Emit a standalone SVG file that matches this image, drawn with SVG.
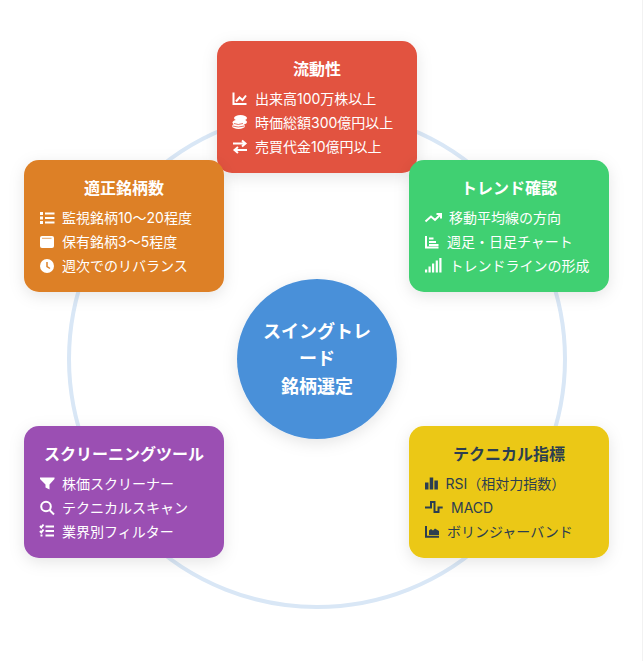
<svg xmlns="http://www.w3.org/2000/svg" width="643" height="661" viewBox="0 0 643 661">
<style>
text{font-family:"Inter","Noto Sans CJK JP","Noto Sans",sans-serif;fill:#fff}
.t{font-size:16px;font-weight:700;text-anchor:middle}
.l{font-size:14px}
.c{font-size:18px;font-weight:700;text-anchor:middle}
.d text{fill:#2c3e50}
.i{fill:#fff}
.d .i{fill:#2c3e50}
.s{fill:none;stroke:#fff;stroke-width:2}
.d .s{stroke:#2c3e50}
</style>
<defs>
<filter id="sh" x="-30%" y="-30%" width="160%" height="170%"><feDropShadow dx="0" dy="4" stdDeviation="7.5" flood-color="#000" flood-opacity="0.1"/></filter>
</defs>
<rect width="643" height="661" fill="#fff"/>
<rect x="642" y="0" width="1" height="661" fill="#f2f2f2"/>
<g id="connectors"><circle cx="317" cy="359" r="248" fill="none" stroke="#d9e7f6" stroke-width="4"/></g>
<g id="center"><circle cx="317" cy="359" r="80" fill="#4a90d9" filter="url(#sh)"/>
<text class="c" x="317" y="338">スイングトレ</text><text class="c" x="317" y="365">ード</text><text class="c" x="317" y="393">銘柄選定</text></g>
<g id="liquidity"><rect x="217" y="41" width="200" height="132" rx="15" fill="#e25240" filter="url(#sh)"/>
<text class="t" x="317" y="75">流動性</text>
<path class="s" d="M233.500 92.500V104H246.500M236 101.500L239.500 97.500L242.500 100L246 95.500"/>
<g class="i"><ellipse cx="240.500" cy="118" rx="6.500" ry="3"/><ellipse cx="241" cy="122" rx="6" ry="3"/><ellipse cx="238" cy="122.500" rx="5.500" ry="2.800"/><ellipse cx="238.500" cy="126" rx="6.500" ry="3"/></g>
<path d="M234 123.500Q238 125.500 243 123.500M232.500 126Q238 128 244.500 126" fill="none" stroke="#e25240" stroke-width=".8"/>
<path class="s" d="M233 143.500H245M242 140.500L245.500 143.500L242 146.500M247 150H235M238 147L234.500 150L238 153" stroke-width="2.200"/>
<text class="l" x="255" y="104">出来高100万株以上</text><text class="l" x="255" y="128">時価総額300億円以上</text><text class="l" x="255" y="152">売買代金10億円以上</text></g>
<g id="count"><rect x="24" y="160" width="200" height="132" rx="15" fill="#dd8027" filter="url(#sh)"/>
<text class="t" x="124" y="194">適正銘柄数</text>
<path class="i" d="M40 212h3v3h-3zM40 216.500h3v3h-3zM40 221h3v3h-3zM45 212.500h9.500v2h-9.500zM45 217h9.500v2h-9.500zM45 221.500h9.500v2h-9.500z"/>
<path class="i" d="M42 236H52Q54 236 54 238V246Q54 248 52 248H42Q40 248 40 246V238Q40 236 42 236Z"/><path d="M42 238.300H51.500" stroke="#dd8027" stroke-width=".7"/>
<circle class="i" cx="47" cy="266" r="7"/><path d="M47 262V266.500L50 268.500" fill="none" stroke="#dd8027" stroke-width="1.500"/>
<text class="l" x="62" y="223">監視銘柄10～20程度</text><text class="l" x="62" y="247">保有銘柄3～5程度</text><text class="l" x="62" y="271">週次でのリバランス</text></g>
<g id="trend"><rect x="409" y="160" width="200" height="132" rx="15" fill="#41d072" filter="url(#sh)"/>
<text class="t" x="509" y="194">トレンド確認</text>
<path class="s" d="M425.500 221.500L431 216.500L435 220L440.500 214.500M436.500 214H441V218.500" stroke-width="2.400"/>
<path class="s" d="M426 236V247.500H438.500M429 238.500H433.500M429 242H436M429 245H438.500" stroke-width="1.800"/>
<path class="i" d="M425 269.500h2.200v3h-2.200zM428.500 266.500h2.200v6h-2.200zM432 263.500h2.200v9h-2.200zM435.700 260.500h2.200v12h-2.200zM439.300 258h2.200v14.500h-2.200z"/>
<text class="l" x="449" y="223">移動平均線の方向</text><text class="l" x="447" y="247">週足・日足チャート</text><text class="l" x="449.500" y="271">トレンドラインの形成</text></g>
<g id="screening"><rect x="24" y="426" width="200" height="132" rx="15" fill="#9b4fb3" filter="url(#sh)"/>
<text class="t" x="124" y="460">スクリーニングツール</text>
<path class="i" d="M40 477.500H54.500V479L49.500 484.500V489.500L45.500 487.500V484.500L40 479Z"/>
<circle class="s" cx="46" cy="506.500" r="4.800"/><path class="s" d="M49.500 510L54 514.500" stroke-width="2.400"/>
<path class="s" d="M40 526L41.300 527.500L43.500 524.500M40 531L41.300 532.500L43.500 529.500M45.500 526.500H54M45.500 531H54M45.500 535.500H54M40.500 535.500H42.500" stroke-width="1.600"/>
<text class="l" x="62" y="489">株価スクリーナー</text><text class="l" x="62" y="513">テクニカルスキャン</text><text class="l" x="62" y="537">業界別フィルター</text></g>
<g id="technical" class="d"><rect x="409" y="426" width="200" height="132" rx="15" fill="#ebc815" filter="url(#sh)"/>
<text class="t" x="509" y="460">テクニカル指標</text>
<path class="i" d="M425 482.500H428.500V489.500H425zM429.700 477.500H433.200V489.500H429.700zM434.400 480.500H437.900V489.500H434.400z"/>
<path class="s" d="M425 507.500H431V502H434.500V512H438.500V507.500H442.700" stroke-width="1.800"/>
<path class="s" d="M426 526V536.800H439" stroke-width="1.800"/><path class="i" d="M429 535V530.500L431 529L433 530.500L435 528.500L439 531V535Z"/>
<text class="l" x="445.500" y="489">RSI（相対力指数）</text><text class="l" x="451" y="513">MACD</text><text class="l" x="447" y="537">ボリンジャーバンド</text></g>
</svg>
